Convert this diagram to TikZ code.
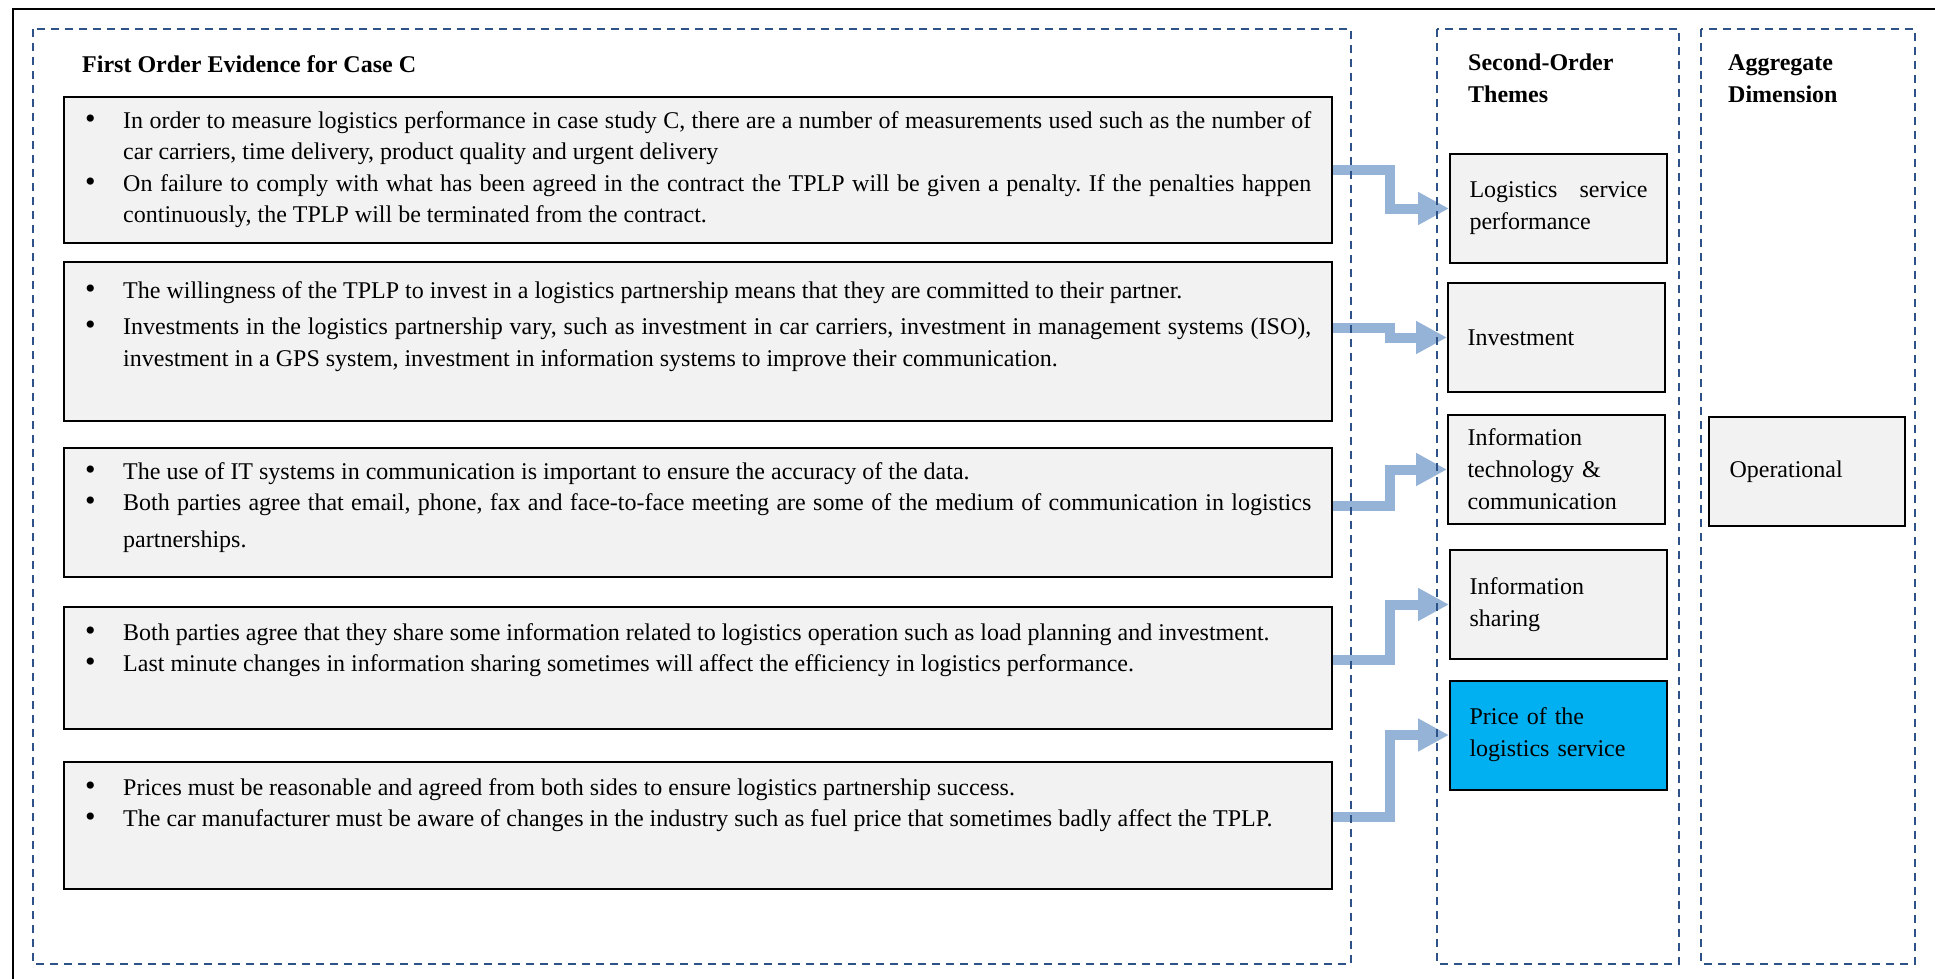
\documentclass[tikz,border=0pt]{standalone}
\usepackage{fontspec}
\setmainfont{Liberation Serif}
\usetikzlibrary{arrows.meta}

\definecolor{framenavy}{RGB}{44,82,135}
\definecolor{boxgray}{RGB}{242,242,242}
\definecolor{priceblue}{RGB}{0,176,240}
\definecolor{flowblue}{RGB}{149,179,215}

\frenchspacing

% bullet list helpers for the evidence boxes
\newcommand\evbul{\makebox[38pt][l]{\scalebox{1.25}{\textbullet}}}
\newcommand\evind{\hspace*{38pt}}
\newcommand\evfull[1]{\makebox[1188pt][s]{#1}}

\tikzset{
  evbox/.style={draw=black, line width=2pt, fill=boxgray, minimum width=1268pt,
    inner sep=0pt, anchor=north west},
  evtext/.style={anchor=north west, inner sep=0pt, align=left,
    font=\fontsize{24}{31.5}\selectfont},
  theme/.style={draw=black, line width=2pt, fill=boxgray, minimum width=217pt,
    minimum height=109pt, text width=178pt, inner sep=0pt, align=left,
    font=\fontsize{24}{32}\selectfont},
  column/.style={draw=framenavy, line width=2pt, dash pattern=on 8pt off 6pt},
  header/.style={anchor=north west, inner sep=0pt, align=left,
    font=\fontsize{24}{32}\selectfont\bfseries},
  flow/.style={draw=flowblue, line width=10pt, line join=miter,
    -{Triangle[length=31pt,width=31pt]}},
}

\begin{document}
\begin{tikzpicture}[x=1pt,y=-1pt]
\useasboundingbox (0,0) rectangle (1935,979);
\clip (0,0) rectangle (1935,979);

% outer frame
\draw[line width=2.5pt] (13,9) rectangle (1960,1000);

% column headers
\node[header] (hfirst) at (82,49.5) {\strut First Order Evidence for Case C};
\node[header] (hsecond) at (1468,47.5) {\strut Second-Order\\Themes};
\node[header] (hagg) at (1728,47.5) {\strut Aggregate\\Dimension};

% first-order evidence boxes
\node[evbox, minimum height=146pt] (ev1) at (63,96) {};
\node[evbox, minimum height=159pt] (ev2) at (63,261) {};
\node[evbox, minimum height=129pt] (ev3) at (63,447) {};
\node[evbox, minimum height=122pt] (ev4) at (63,606) {};
\node[evbox, minimum height=127pt] (ev5) at (63,761) {};

\node[evtext] (tx1) at (85,105.9) {\strut\evbul\evfull{In order to measure logistics performance in case study C, there are a number of measurements used such as the number of}\\
\evind car carriers, time delivery, product quality and urgent delivery\\
\evbul\evfull{On failure to comply with what has been agreed in the contract the TPLP will be given a penalty. If the penalties happen}\\
\evind continuously, the TPLP will be terminated from the contract.};

\node[evtext] (tx2) at (85,275.9) {\strut\evbul The willingness of the TPLP to invest in a logistics partnership means that they are committed to their partner.\\[5pt]
\evbul\evfull{Investments in the logistics partnership vary, such as investment in car carriers, investment in management systems (ISO),}\\
\evind investment in a GPS system, investment in information systems to improve their communication.};

\node[evtext] (tx3) at (85,456.9) {\strut\evbul The use of IT systems in communication is important to ensure the accuracy of the data.\\
\evbul\evfull{Both parties agree that email, phone, fax and face-to-face meeting are some of the medium of communication in logistics}\\[5pt]
\evind partnerships.};

\node[evtext] (tx4) at (85,617.9) {\strut\evbul Both parties agree that they share some information related to logistics operation such as load planning and investment.\\
\evbul Last minute changes in information sharing sometimes will affect the efficiency in logistics performance.};

\node[evtext] (tx5) at (85,772.9) {\strut\evbul Prices must be reasonable and agreed from both sides to ensure logistics partnership success.\\
\evbul The car manufacturer must be aware of changes in the industry such as fuel price that sometimes badly affect the TPLP.};

% second-order themes
\node[theme] (th1) at (1558.5,208.5) {\hbox to 178pt{Logistics\hfill service}\\performance};
\node[theme] (th2) at (1556.5,337.5) {Investment};
\node[theme] (th3) at (1556.5,469.5) {Information\\technology \&\\communication};
\node[theme] (th4) at (1558.5,604.5) {Information\\sharing};
\node[theme, fill=priceblue] (th5) at (1558.5,735) {Price of the\\logistics service};

% aggregate dimension
\node[theme, minimum width=196pt, text width=155pt] (agg) at (1807,471.5) {Operational};

% links from evidence to themes
\coordinate (busx) at (1390,0);
\draw[flow] (ev1.east) -| (busx |- th1.west) -- (th1.west);
\draw[flow] ([yshift=13.5pt]ev2.east) -| (busx |- th2.west) -- (th2.west);
\draw[flow] ([yshift=6.5pt]ev3.east) -| (busx |- th3.west) -- (th3.west);
\draw[flow] ([yshift=8pt]ev4.east) -| (busx |- th4.west) -- (th4.west);
\draw[flow] ([yshift=8.5pt]ev5.east) -| (busx |- th5.west) -- (th5.west);

% dashed column frames
\draw[column] (33,29) rectangle (1351,964);
\draw[column] (1437,29) rectangle (1679,964);
\draw[column] (1701,29) rectangle (1915,964);
\end{tikzpicture}
\end{document}
